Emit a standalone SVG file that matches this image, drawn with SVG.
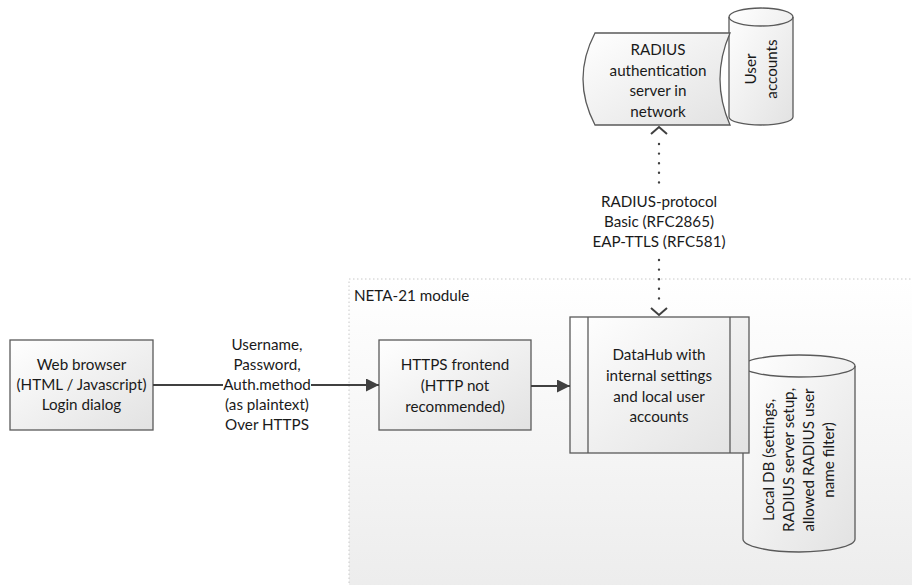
<svg xmlns="http://www.w3.org/2000/svg" width="912" height="585" viewBox="0 0 912 585">
<defs>
<linearGradient id="gShape" x1="0" y1="0" x2="1" y2="1">
<stop offset="0" stop-color="#ffffff"/>
<stop offset="1" stop-color="#e2e2e2"/>
</linearGradient>
<linearGradient id="gCont" x1="0" y1="0" x2="0" y2="1">
<stop offset="0" stop-color="#ffffff"/>
<stop offset="1" stop-color="#ececec"/>
</linearGradient>
<marker id="arrow" markerUnits="userSpaceOnUse" markerWidth="14" markerHeight="14" refX="13" refY="6.5" orient="auto">
<path d="M0,0 L13,6.5 L0,13 Z" fill="#404040"/>
</marker>
</defs>
<style>
text{font-family:Lato,"Liberation Sans",Arial,sans-serif;font-size:15.2px;fill:#1a1a1a}
.c{text-anchor:middle}
.box{fill:url(#gShape);stroke:#5a5a5a;stroke-width:1.3}
.ln{fill:none;stroke:#404040;stroke-width:2}
.dot{fill:none;stroke:#404040;stroke-width:2.4;stroke-dasharray:0 9.6;stroke-linecap:round}
.chev{fill:none;stroke:#404040;stroke-width:2}
</style>

<g id="container">
<rect x="349" y="279" width="580" height="320" fill="url(#gCont)" stroke="#c8c8c8" stroke-width="1" stroke-dasharray="1.5 2.5"/>
<text x="354" y="301">NETA-21 module</text>
</g>

<g id="user-accounts">
<path class="box" d="M729,17 A32,9 0 0 1 793,17 L793,117 A32,8 0 0 1 729,117 Z"/>
<path d="M729,17 A32,9 0 0 0 793,17" fill="none" stroke="#5a5a5a" stroke-width="1.3"/>
<text class="c" transform="translate(761,69) rotate(-90)"><tspan x="0" y="-5">User</tspan><tspan x="0" y="16">accounts</tspan></text>
</g>

<g id="radius-server">
<path class="box" d="M595,33 L730,33 Q710,79 730,125 L595,125 Q571,79 595,33 Z"/>
<text class="c" x="658" y="55">RADIUS</text>
<text class="c" x="658" y="75.5">authentication</text>
<text class="c" x="658" y="96">server in</text>
<text class="c" x="658" y="116.5">network</text>
</g>

<g id="local-db">
<path class="box" d="M743,366 A56,11 0 0 1 855,366 L855,539 A56,13 0 0 1 743,539 Z"/>
<path d="M743,366 A56,11 0 0 0 855,366" fill="none" stroke="#5a5a5a" stroke-width="1.3"/>
<text class="c" transform="translate(799,460) rotate(-90)"><tspan x="0" y="-25">Local DB (settings,</tspan><tspan x="0" y="-5">RADIUS server setup,</tspan><tspan x="0" y="15">allowed RADIUS user</tspan><tspan x="0" y="35">name filter)</tspan></text>
</g>

<g id="datahub">
<rect class="box" x="570" y="317" width="179" height="136"/>
<line x1="588" y1="317" x2="588" y2="453" stroke="#5a5a5a" stroke-width="1.3"/>
<line x1="730" y1="317" x2="730" y2="453" stroke="#5a5a5a" stroke-width="1.3"/>
<text class="c" x="659" y="360">DataHub with</text>
<text class="c" x="659" y="381">internal settings</text>
<text class="c" x="659" y="402">and local user</text>
<text class="c" x="659" y="422">accounts</text>
</g>

<g id="https-frontend">
<rect class="box" x="379" y="340" width="152" height="90"/>
<text class="c" x="455" y="370">HTTPS frontend</text>
<text class="c" x="455" y="391">(HTTP not</text>
<text class="c" x="455" y="412">recommended)</text>
</g>

<g id="web-browser">
<rect class="box" x="10" y="340" width="143" height="90"/>
<text class="c" x="81.5" y="370">Web browser</text>
<text class="c" x="81.5" y="390">(HTML / Javascript)</text>
<text class="c" x="81.5" y="410">Login dialog</text>
</g>

<g id="connectors">
<line class="ln" x1="153" y1="385" x2="223" y2="385"/>
<line class="ln" x1="311" y1="385" x2="379" y2="385" marker-end="url(#arrow)"/>
<text class="c" x="267" y="350">Username,</text>
<text class="c" x="267" y="370">Password,</text>
<text class="c" x="267" y="390">Auth.method</text>
<text class="c" x="267" y="410">(as plaintext)</text>
<text class="c" x="267" y="430">Over HTTPS</text>

<line class="ln" x1="531" y1="386" x2="570" y2="386" marker-end="url(#arrow)"/>

<line class="dot" x1="659" y1="144" x2="659" y2="184"/>
<line class="dot" x1="659" y1="260" x2="659" y2="308"/>
<polyline class="chev" points="651,134 659,127 667,134"/>
<polyline class="chev" points="651,308 659,315 667,308"/>
<text class="c" x="659" y="207">RADIUS-protocol</text>
<text class="c" x="659" y="227">Basic (RFC2865)</text>
<text class="c" x="659" y="247">EAP-TTLS (RFC581)</text>
</g>
</svg>
